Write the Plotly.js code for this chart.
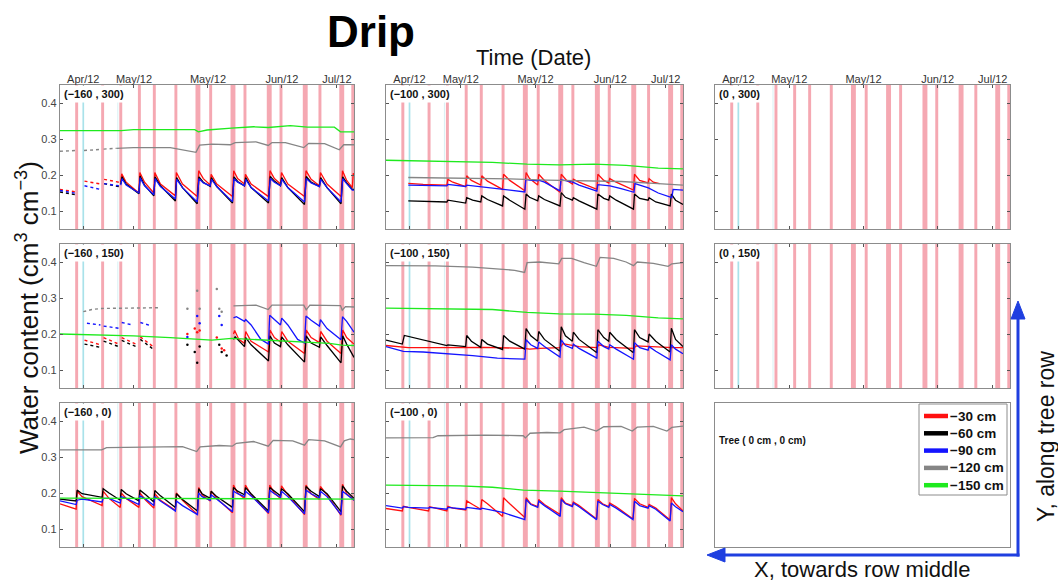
<!DOCTYPE html>
<html><head><meta charset="utf-8">
<script src="https://cdn.plot.ly/plotly-3.0.1.min.js"></script>
<style>html,body{margin:0;padding:0;background:#fff}#chart{width:1058px;height:583px}</style>
</head><body><div id="chart"></div>
<script>
// ---------------- DATA ----------------
// x values are days since 2012-04-01
const TICK_DAYS = [9.5, 30.2, 60.4, 90.6, 113];
const TICK_LABELS = ['Apr/12', 'May/12', 'May/12', 'Jun/12', 'Jul/12'];
const Y_TICKS = [0.1, 0.2, 0.3, 0.4];
const Y_LABELS = ['0.1', '0.2', '0.3', '0.4'];
const SERIES_NAMES = ['\u221230 cm', '\u221260 cm', '\u221290 cm', '\u2212120 cm', '\u2212150 cm'];
const PANEL_LABELS = ['(\u2212160 , 300)', '(\u2212100 , 300)', '(0 , 300)',
                      '(\u2212160 , 150)', '(\u2212100 , 150)', '(0 , 150)',
                      '(\u2212160 , 0)', '(\u2212100 , 0)', 'Tree ( 0 cm , 0 cm)'];
// irrigation events [start day, end day]
const IRRIGATION = [[6.2,7.4],[16.8,18.0],[24.2,25.4],[31.8,33.0],[37.9,39.1],[46.7,47.9],
  [55.3,57.3],[60.9,62.1],[69.6,71.6],[74.9,76.1],[84.4,86.4],[89.6,90.8],[99.1,101.1],
  [105.5,106.7],[114.0,116.0],[118.9,120.0]];
const RAIN = [[9.15,9.85]];
const RAIN_FAINT = [[23.4,23.8]];

// Panel (-160, 300)
const P1_RED_EARLY = [[0,0.160],[6.5,0.153],null,[10,0.183],[16.5,0.175],null,[18,0.188],[24,0.180]];
const P1_BLACK_EARLY = [[0,0.153],[6.5,0.145],null,[18,0.176],[24,0.168]];
const P1_BLUE_EARLY = [[0,0.157],[6.5,0.149],null,[10,0.170],[16.5,0.160],null,[18,0.176],[24,0.170]];
const P1_GRAY_EARLY = [[0,0.266],[6.5,0.268],null,[9.8,0.268],[16.5,0.271],null,[17.8,0.272],[23,0.274]];
const P1_RED = [[24.8,0.180],[25.2,0.203],[27,0.180],[32.2,0.150],[32.6,0.207],[34.5,0.180],[38.3,0.150],
  [38.7,0.207],[41,0.175],[47.1,0.142],[47.5,0.207],[50,0.175],[56,0.140],[56.6,0.212],[58.5,0.190],[61.3,0.172],
  [61.7,0.202],[64,0.175],[70.4,0.140],[70.9,0.212],[72.5,0.190],[75.3,0.175],[75.7,0.202],[78,0.175],[85.1,0.140],
  [85.7,0.212],[87.5,0.190],[90,0.175],[90.4,0.207],[93,0.175],[99.8,0.140],[100.4,0.212],[102.5,0.188],[105.9,0.170],
  [106.3,0.207],[109,0.175],[114.7,0.140],[115.3,0.212],[117,0.185],[119.3,0.165],[119.7,0.205],[120,0.200]];
const P1_BLACK = [[24.8,0.175],[25.3,0.195],[27,0.175],[32.2,0.148],[32.7,0.197],[34.5,0.172],[38.3,0.142],
  [38.8,0.195],[41,0.170],[47.1,0.128],[47.6,0.193],[50,0.165],[56,0.120],[56.7,0.195],[58.5,0.180],[61.3,0.168],
  [61.8,0.193],[64,0.168],[70.4,0.122],[71,0.195],[72.5,0.182],[75.3,0.170],[75.8,0.193],[78,0.165],[85.1,0.122],
  [85.8,0.196],[87.5,0.183],[90,0.170],[90.5,0.193],[93,0.165],[99.8,0.118],[100.5,0.196],[102.5,0.180],[105.9,0.168],
  [106.4,0.193],[109,0.165],[114.7,0.120],[115.4,0.195],[117,0.178],[119.3,0.160],[120,0.160]];
const P1_BLUE = [[24.8,0.172],[25.3,0.190],[27,0.172],[32.2,0.150],[32.7,0.192],[34.5,0.170],[38.3,0.145],
  [38.8,0.190],[41,0.168],[47.1,0.133],[47.6,0.188],[50,0.165],[56,0.125],[56.7,0.190],[58.5,0.178],[61.3,0.170],
  [61.8,0.188],[64,0.168],[70.4,0.126],[71,0.190],[72.5,0.180],[75.3,0.170],[75.8,0.188],[78,0.165],[85.1,0.128],
  [85.8,0.190],[87.5,0.180],[90,0.170],[90.5,0.188],[93,0.165],[99.8,0.125],[100.5,0.190],[102.5,0.178],[105.9,0.168],
  [106.4,0.188],[109,0.165],[114.7,0.125],[115.4,0.190],[117,0.176],[119.3,0.158],[120,0.158]];
const P1_GRAY = [[23,0.274],[30,0.276],[45,0.276],[55.5,0.263],[57,0.283],[62,0.286],[69.5,0.284],[71.5,0.290],
  [80,0.292],[85,0.282],[86.5,0.290],[92,0.290],[99.5,0.276],[101.5,0.288],[108,0.287],[114,0.270],[115.8,0.284],[120,0.284]];
const P1_GREEN = [[0,0.323],[25,0.323],[30,0.326],[55,0.326],[56.5,0.320],[60,0.325],[70,0.330],[79,0.334],
  [85,0.332],[94,0.337],[101,0.333],[112,0.333],[114.5,0.320],[120,0.320]];

// Panel (-100, 300)
const P2_RED = [[9,0.177],[15,0.174],[24.6,0.172],[25.0,0.188],[27,0.180],[32.2,0.168],[32.6,0.198],[34.5,0.185],
  [38.3,0.172],[38.7,0.198],[41,0.183],[47.1,0.160],[47.5,0.202],[50,0.185],[56.1,0.156],[56.6,0.207],[58,0.190],
  [61.3,0.172],[61.7,0.202],[64,0.185],[70.3,0.152],[70.8,0.202],[73,0.185],[75.3,0.175],[75.7,0.188],[78,0.180],
  [85.2,0.160],[85.6,0.202],[88,0.185],[90,0.178],[90.4,0.190],[93,0.180],[100,0.158],[100.4,0.202],[102.5,0.185],
  [105.9,0.178],[106.3,0.190],[108,0.180],[110.5,0.176]];
const P2_BLACK = [[9,0.128],[24.6,0.125],[25.0,0.130],[32.2,0.122],[32.6,0.137],[35,0.130],[38.3,0.125],
  [38.7,0.142],[41,0.132],[47.1,0.114],[47.5,0.142],[50,0.130],[56.1,0.105],[56.6,0.147],[58,0.138],[61.3,0.128],
  [61.7,0.142],[64,0.132],[70.3,0.114],[70.8,0.151],[72.5,0.138],[75.3,0.130],[75.7,0.137],[78,0.128],[85.2,0.105],
  [85.6,0.147],[88,0.135],[90,0.130],[90.4,0.142],[93,0.130],[100,0.105],[100.4,0.147],[102.5,0.135],[105.9,0.130],
  [106.3,0.137],[109,0.125],[114.8,0.114],[115.3,0.147],[117,0.130],[120,0.118]];
const P2_BLUE = [[9,0.172],[24.6,0.170],[25.0,0.174],[32.2,0.168],[32.6,0.172],[38.3,0.167],[47.1,0.160],[56.1,0.153],
  [56.5,0.188],[58,0.186],[61.3,0.184],[61.7,0.186],[64,0.180],[70.3,0.156],[70.7,0.187],[73,0.184],[75.5,0.180],
  [78,0.172],[85.2,0.155],[85.6,0.173],[88,0.172],[90.5,0.170],[95,0.162],[100.2,0.152],[100.6,0.176],[103,0.170],
  [106,0.164],[110,0.150],[115.5,0.137],[116,0.160],[120,0.158]];
const P2_GRAY = [[9,0.193],[30,0.192],[50,0.189],[65,0.186],[80,0.184],[95,0.182],[110,0.176],[120,0.172]];
const P2_GREEN = [[0,0.241],[20,0.239],[43,0.235],[57,0.230],[70,0.228],[84,0.230],[97,0.227],[110,0.219],[120,0.217]];

// Panel (-160, 150)
const P4_RED_EARLY = [[10,0.183],[16.5,0.170],null,[17.8,0.190],[24,0.172],null,[25.2,0.190],[31,0.172],null,[32.8,0.192],[38,0.165]];
const P4_BLACK_EARLY = [[10,0.172],[16.5,0.163],null,[17.8,0.180],[24,0.165],null,[25.2,0.182],[31,0.165],null,[32.8,0.185],[38,0.158]];
const P4_BLUE_EARLY = [[11,0.230],[16.5,0.225],null,[17.8,0.222],[24,0.216],null,[25.2,0.232],[29,0.226],null,[32.8,0.232],[37,0.223]];
const P4_GRAY_EARLY = [[9.5,0.262],[13,0.268],[17,0.271],[41,0.273]];
const P4_RED_DOTS = [[52,0.200],[55,0.215],[56,0.205],[57,0.210],[64,0.190],[66,0.160],[67,0.155]];
const P4_BLACK_DOTS = [[52,0.170],[55,0.150],[56,0.120],[57,0.165],[65,0.170],[66,0.150],[68,0.140]];
const P4_BLUE_DOTS = [[52,0.192],[56,0.250],[57,0.230],[65,0.250],[66,0.225]];
const P4_GRAY_DOTS = [[52,0.270],[56,0.320],[57,0.270],[64,0.325],[65,0.270],[66,0.262]];
const P4_RED = [[70.8,0.200],[71.3,0.210],[73,0.185],[75.3,0.174],[75.8,0.207],[78,0.180],[85.1,0.150],[85.7,0.211],
  [87.5,0.190],[90,0.178],[90.5,0.207],[93,0.180],[99.8,0.146],[100.5,0.211],[102.5,0.190],[105.9,0.176],[106.4,0.207],
  [109,0.180],[114.7,0.146],[115.4,0.211],[117,0.190],[120,0.172]];
const P4_BLACK = [[70.8,0.185],[71.5,0.192],[75.3,0.165],[75.8,0.190],[78,0.170],[85.1,0.125],[85.7,0.195],[87.5,0.175],
  [90,0.165],[90.5,0.192],[93,0.170],[99.8,0.122],[100.5,0.195],[102.5,0.175],[105.9,0.163],[106.4,0.192],[109,0.168],
  [114.7,0.120],[115.4,0.195],[117,0.172],[120,0.135]];
const P4_BLUE = [[70.8,0.245],[72,0.248],[75.3,0.235],[75.8,0.240],[78,0.225],[82,0.185],[85.1,0.172],[85.6,0.252],
  [87.5,0.240],[90,0.225],[90.5,0.244],[93,0.225],[97,0.185],[99.8,0.175],[100.4,0.250],[102.5,0.238],[105.9,0.222],
  [106.3,0.240],[109,0.215],[114.7,0.184],[115.3,0.248],[117,0.235],[120,0.205]];
const P4_GRAY = [[70.8,0.278],[80,0.280],[85,0.268],[86.5,0.280],[99.5,0.280],[100.5,0.267],[102,0.280],[114.5,0.279],
  [115.2,0.266],[116.5,0.276],[120,0.275]];
const P4_GREEN = [[0,0.200],[15,0.198],[30,0.195],[45,0.190],[56,0.186],[62,0.183],[70,0.188],[80,0.185],[90,0.182],
  [100,0.178],[110,0.174],[115,0.169],[120,0.168]];

// Panel (-100, 150)
const P5_RED = [[0,0.168],[9,0.162],[20,0.162],[40,0.163],[56,0.160],[58,0.158],[62,0.160],[70.3,0.162],[71.5,0.173],
  [78,0.165],[85.2,0.162],[86,0.170],[90,0.163],[100.2,0.160],[101,0.167],[110,0.163],[116,0.162],[120,0.162]];
const P5_BLACK = [[0,0.183],[6.6,0.172],[7.4,0.196],[12,0.188],[24.6,0.168],[25,0.170],[32.2,0.165],[32.6,0.196],
  [34.5,0.180],[38.3,0.163],[38.7,0.185],[41,0.172],[47.1,0.157],[47.5,0.196],[50,0.180],[56.1,0.158],[56.6,0.215],
  [58.5,0.195],[61.3,0.180],[61.7,0.207],[64,0.185],[70.3,0.152],[70.8,0.220],[72.5,0.195],[75.3,0.180],[75.7,0.205],
  [78,0.185],[85.2,0.148],[85.6,0.212],[88,0.190],[90,0.180],[90.4,0.205],[93,0.185],[100,0.148],[100.4,0.212],
  [102.5,0.190],[105.9,0.178],[106.3,0.200],[109,0.180],[114.8,0.150],[115.3,0.216],[117,0.185],[120,0.165]];
const P5_BLUE = [[0,0.165],[7,0.152],[15,0.150],[25,0.146],[35,0.140],[45,0.133],[56.1,0.130],[56.6,0.184],[58.5,0.170],
  [61.3,0.160],[61.7,0.178],[64,0.165],[70.3,0.136],[70.8,0.184],[72.5,0.168],[75.3,0.160],[75.7,0.172],[78,0.160],
  [85.2,0.133],[85.6,0.180],[88,0.165],[90,0.158],[90.4,0.170],[93,0.158],[100,0.130],[100.4,0.176],[102.5,0.162],
  [105.9,0.155],[106.3,0.165],[109,0.152],[114.8,0.128],[115.3,0.170],[117,0.158],[120,0.145]];
const P5_GRAY = [[0,0.390],[20,0.389],[35,0.386],[45,0.380],[52,0.377],[56,0.371],[57,0.398],[62,0.400],[69.8,0.395],
  [71,0.410],[75,0.410],[80,0.398],[85,0.388],[86.5,0.413],[92,0.410],[97,0.400],[100,0.390],[101.5,0.400],[108,0.396],
  [114,0.388],[115.5,0.395],[120,0.398]];
const P5_GREEN = [[0,0.272],[20,0.271],[43,0.268],[57,0.260],[70,0.256],[84,0.255],[97,0.252],[110,0.245],[120,0.242]];

// Panel (-160, 0)
const P7_RED = [[0,0.170],[6.6,0.155],[7.0,0.205],[9,0.190],[17.2,0.165],[17.6,0.205],[20,0.185],[24.6,0.160],
  [25,0.200],[27,0.185],[32.2,0.160],[32.6,0.200],[35,0.180],[38.3,0.158],[38.7,0.198],[41,0.180],[47.1,0.152],
  [47.5,0.200],[50,0.180],[56.1,0.140],[56.6,0.215],[58,0.195],[61.3,0.178],[61.7,0.205],[64,0.185],[70.4,0.145],
  [70.8,0.222],[72.5,0.200],[75.3,0.185],[75.7,0.222],[78,0.195],[85.1,0.143],[85.6,0.222],[87.5,0.200],[90,0.185],
  [90.4,0.220],[93,0.195],[99.8,0.140],[100.4,0.222],[102.5,0.198],[105.9,0.182],[106.3,0.218],[109,0.195],
  [114.7,0.138],[115.3,0.224],[117,0.198],[120,0.180]];
const P7_BLACK = [[0,0.183],[6.6,0.178],[7.0,0.208],[9,0.198],[17.2,0.188],[17.6,0.212],[20,0.200],[24.6,0.180],
  [25,0.210],[27,0.198],[32.2,0.178],[32.6,0.208],[35,0.195],[38.3,0.175],[38.7,0.207],[41,0.192],[47.1,0.160],
  [47.5,0.198],[50,0.182],[56.1,0.150],[56.6,0.212],[58,0.198],[61.3,0.185],[61.7,0.205],[64,0.190],[70.4,0.160],
  [70.8,0.215],[72.5,0.205],[75.3,0.195],[75.7,0.215],[78,0.198],[85.1,0.150],[85.6,0.215],[87.5,0.205],[90,0.192],
  [90.4,0.212],[93,0.198],[99.8,0.148],[100.4,0.218],[102.5,0.205],[105.9,0.190],[106.3,0.212],[109,0.198],
  [114.7,0.148],[115.3,0.220],[117,0.205],[120,0.185]];
const P7_BLUE = [[0,0.178],[6.6,0.168],[7.0,0.180],[9,0.183],[17.2,0.175],[17.6,0.185],[20,0.185],[24.6,0.172],
  [25,0.190],[27,0.185],[32.2,0.168],[32.6,0.192],[35,0.183],[38.3,0.165],[38.7,0.190],[41,0.178],[47.1,0.150],
  [47.5,0.178],[50,0.165],[56.1,0.140],[56.6,0.200],[58,0.190],[61.3,0.180],[61.7,0.195],[64,0.183],[70.4,0.148],
  [70.8,0.205],[72.5,0.198],[75.3,0.190],[75.7,0.205],[78,0.192],[85.1,0.145],[85.6,0.208],[87.5,0.198],[90,0.188],
  [90.4,0.205],[93,0.190],[99.8,0.142],[100.4,0.208],[102.5,0.198],[105.9,0.186],[106.3,0.205],[109,0.190],
  [114.7,0.140],[115.3,0.205],[117,0.195],[120,0.180]];
const P7_GRAY = [[0,0.320],[17,0.320],[19,0.326],[35,0.328],[50,0.329],[55.8,0.315],[57.2,0.328],[65,0.332],[70.3,0.330],
  [72,0.338],[79,0.343],[85,0.330],[87,0.346],[95,0.345],[99.8,0.333],[101.5,0.348],[108,0.345],[114.5,0.328],
  [116,0.345],[118.5,0.350],[120,0.348]];
const P7_GREEN = [[0,0.186],[30,0.185],[60,0.184],[90,0.184],[120,0.183]];

// Panel (-100, 0)
const P8_RED = [[0,0.157],[6.6,0.150],[7.0,0.163],[9,0.160],[17.2,0.150],[17.6,0.162],[20,0.158],[24.6,0.150],
  [25,0.163],[27,0.158],[32.2,0.153],[32.6,0.178],[35,0.168],[38.3,0.155],[38.7,0.182],[41,0.170],[47.1,0.135],
  [47.5,0.187],[50,0.170],[56.1,0.132],[56.6,0.187],[58.5,0.170],[61.3,0.162],[61.7,0.182],[64,0.168],[70.4,0.140],
  [70.8,0.187],[72.5,0.172],[75.3,0.165],[75.7,0.175],[78,0.165],[85.1,0.128],[85.6,0.182],[87.5,0.170],[90,0.162],
  [90.4,0.172],[93,0.162],[99.8,0.128],[100.4,0.185],[102.5,0.170],[105.9,0.160],[106.3,0.168],[109,0.158],
  [114.8,0.125],[115.3,0.187],[117,0.170],[120,0.150]];
const P8_BLUE = [[0,0.165],[6.6,0.158],[7.0,0.162],[9,0.160],[17.2,0.158],[17.6,0.160],[24.6,0.155],[25,0.160],
  [32.2,0.155],[32.6,0.160],[38.3,0.155],[38.7,0.158],[47.1,0.146],[52,0.135],[56.1,0.126],[56.6,0.182],[58.5,0.168],
  [61.3,0.160],[61.7,0.177],[64,0.165],[70.4,0.135],[70.8,0.182],[72.5,0.170],[75.3,0.162],[75.7,0.172],[78,0.162],
  [85.1,0.126],[85.6,0.177],[87.5,0.168],[90,0.160],[90.4,0.168],[93,0.158],[99.8,0.126],[100.4,0.177],[102.5,0.165],
  [105.9,0.158],[106.3,0.165],[109,0.155],[114.8,0.122],[115.3,0.172],[117,0.162],[120,0.148]];
const P8_GRAY = [[0,0.353],[19,0.354],[21,0.359],[40,0.361],[55.5,0.359],[56.3,0.353],[58.2,0.366],[65,0.368],
  [70.3,0.367],[72,0.376],[80,0.383],[85,0.372],[88,0.384],[95,0.385],[99.5,0.372],[101.5,0.383],[108,0.385],
  [113.5,0.372],[115.5,0.382],[120,0.386]];
const P8_GREEN = [[0,0.222],[30,0.220],[43,0.216],[55.5,0.208],[70,0.205],[84,0.201],[97,0.198],[110,0.195],[120,0.192]];

// ---------------- BUILD ----------------
const BASE = Date.UTC(2012, 3, 1);
const toDate = d => new Date(BASE + d * 86400000).toISOString().slice(0, 19).replace('T', ' ');
const W = 1058, H = 583;
const PX = v => v / W, PY = v => 1 - v / H;
const FONT = 'Arial, "Liberation Sans", Helvetica, sans-serif';
const C = {red: '#ff1010', black: '#000000', blue: '#1414ff', gray: '#858585', green: '#1eea1e'};
const COLS = [[60, 354], [386, 683], [715, 1010]];
const ROWS = [[85, 229], [244, 388], [403, 547]];
const sfx = i => (i === 1 ? '' : String(i));

const traces = [];
function add(i, pts, color, kind) {
  const x = [], y = [];
  pts.forEach(p => { if (p === null) { x.push(null); y.push(null); } else { x.push(toDate(p[0])); y.push(p[1]); } });
  const t = {type: 'scatter', x, y, xaxis: 'x' + sfx(i), yaxis: 'y' + sfx(i), showlegend: false, hoverinfo: 'skip'};
  if (kind === 'dots') { t.mode = 'markers'; t.marker = {color, size: 2.5}; }
  else { t.mode = 'lines'; t.line = {color, width: kind === 'dot' ? 1.4 : 1.3, dash: kind === 'dot' ? 'dot' : 'solid'}; }
  traces.push(t);
}
const PANELS = {
  1: {red: P1_RED, black: P1_BLACK, blue: P1_BLUE, gray: P1_GRAY, green: P1_GREEN,
      early: {red: P1_RED_EARLY, black: P1_BLACK_EARLY, blue: P1_BLUE_EARLY, gray: P1_GRAY_EARLY}},
  2: {red: P2_RED, black: P2_BLACK, blue: P2_BLUE, gray: P2_GRAY, green: P2_GREEN},
  4: {red: P4_RED, black: P4_BLACK, blue: P4_BLUE, gray: P4_GRAY, green: P4_GREEN,
      early: {red: P4_RED_EARLY, black: P4_BLACK_EARLY, blue: P4_BLUE_EARLY, gray: P4_GRAY_EARLY},
      dots: {red: P4_RED_DOTS, black: P4_BLACK_DOTS, blue: P4_BLUE_DOTS, gray: P4_GRAY_DOTS}},
  5: {red: P5_RED, black: P5_BLACK, blue: P5_BLUE, gray: P5_GRAY, green: P5_GREEN},
  7: {red: P7_RED, black: P7_BLACK, blue: P7_BLUE, gray: P7_GRAY, green: P7_GREEN},
  8: {red: P8_RED, blue: P8_BLUE, gray: P8_GRAY, green: P8_GREEN}
};
const ORDER = ['red', 'black', 'blue', 'gray', 'green'];
Object.keys(PANELS).forEach(k => {
  const i = +k, P = PANELS[k];
  ORDER.forEach(s => {
    if (P.early && P.early[s]) add(i, P.early[s], C[s], 'dot');
    if (P.dots && P.dots[s]) add(i, P.dots[s], C[s], 'dots');
    if (P[s]) add(i, P[s], C[s], 'line');
  });
});
// empty traces so the data-free panels are still drawn
[3, 6, 9].forEach(i => traces.push({type: 'scatter', mode: 'lines', x: [], y: [], xaxis: 'x' + i, yaxis: 'y' + i,
  showlegend: false, hoverinfo: 'skip'}));

const layout = {
  width: W, height: H, margin: {l: 0, r: 0, t: 0, b: 0},
  paper_bgcolor: '#fff', plot_bgcolor: '#fff',
  font: {family: FONT, color: '#222'},
  title: {text: '<b>Drip</b>', x: PX(371), y: PY(32), xanchor: 'center', yanchor: 'middle',
          font: {size: 44, color: '#000', family: FONT}},
  showlegend: false,
  shapes: [], annotations: []
};
for (let r = 0; r < 3; r++) for (let c = 0; c < 3; c++) {
  const i = r * 3 + c + 1, s = sfx(i);
  const tk = i === 9 ? '' : 'inside';
  layout['xaxis' + s] = {type: 'date', domain: [PX(COLS[c][0]), PX(COLS[c][1])], anchor: 'y' + s,
    range: [toDate(0), toDate(120)], tickmode: 'array', tickvals: TICK_DAYS.map(toDate), ticktext: TICK_LABELS,
    side: r === 0 ? 'top' : 'bottom', showticklabels: r === 0, ticks: tk, ticklen: 3, tickcolor: '#555',
    ticklabelstandoff: -4,
    showline: true, mirror: i === 9 ? true : 'ticks', linecolor: '#8c8c8c', linewidth: 1.2,
    showgrid: false, zeroline: false, tickfont: {size: 11, color: '#333', family: FONT}, fixedrange: true};
  layout['yaxis' + s] = {domain: [PY(ROWS[r][1]), PY(ROWS[r][0])], anchor: 'x' + s, range: [0.05, 0.45],
    tickmode: 'array', tickvals: Y_TICKS, ticktext: Y_LABELS, showticklabels: c === 0 && i !== 9,
    ticks: tk, ticklen: 3, tickcolor: '#555', showline: true, mirror: i === 9 ? true : 'ticks',
    linecolor: '#8c8c8c', linewidth: 1.2, showgrid: false, zeroline: false,
    tickfont: {size: 11, color: '#444', family: FONT}, fixedrange: true};
  if (i !== 9) {
    const band = (ev, col) => layout.shapes.push({type: 'rect', xref: 'x' + s, yref: 'y' + s + ' domain',
      x0: toDate(ev[0]), x1: toDate(ev[1]), y0: 0, y1: 1, fillcolor: col, line: {width: 0}, layer: 'below'});
    IRRIGATION.forEach(ev => band(ev, '#f5a8b2'));
    RAIN.forEach(ev => band(ev, '#a9e2ea'));
    RAIN_FAINT.forEach(ev => band(ev, '#d8f1f4'));
    layout.annotations.push({xref: 'x' + s + ' domain', yref: 'y' + s + ' domain', x: 0.004, y: 0.997,
      xanchor: 'left', yanchor: 'top', text: '<b>' + PANEL_LABELS[i - 1] + '</b>', showarrow: false,
      bgcolor: '#fff', borderpad: 2, font: {size: 11, color: '#111', family: FONT}});
  } else {
    layout.annotations.push({xref: 'paper', yref: 'paper', x: PX(717), y: PY(440), xanchor: 'left',
      yanchor: 'middle', text: '<b>' + PANEL_LABELS[8] + '</b>', showarrow: false,
      font: {size: 10, color: '#111', family: FONT}});
  }
}
// legend (drawn inside the tree panel)
const LEG = {left: 919, right: 1007, top: 404, bottom: 495, first: 416, step: 17.3};
layout.shapes.push({type: 'rect', xref: 'paper', yref: 'paper', x0: PX(LEG.left), x1: PX(LEG.right),
  y0: PY(LEG.bottom), y1: PY(LEG.top), fillcolor: '#fff', line: {color: '#8c8c8c', width: 1}});
ORDER.forEach((s, j) => {
  const yc = LEG.first + LEG.step * j;
  layout.shapes.push({type: 'line', xref: 'paper', yref: 'paper', x0: PX(924), x1: PX(948), y0: PY(yc), y1: PY(yc),
    line: {color: C[s], width: 4.5}});
  layout.annotations.push({xref: 'paper', yref: 'paper', x: PX(949), y: PY(yc), xanchor: 'left', yanchor: 'middle',
    text: '<b>' + SERIES_NAMES[j] + '</b>', showarrow: false, borderpad: 0,
    font: {size: 13.5, color: '#111', family: FONT}});
});
// axis titles / direction labels
layout.annotations.push(
  {xref: 'paper', yref: 'paper', x: PX(533), y: PY(58), text: 'Time (Date)', showarrow: false,
   xanchor: 'center', yanchor: 'middle', font: {size: 22, color: '#111', family: FONT}},
  {xref: 'paper', yref: 'paper', x: PX(27), y: PY(308), text: 'Water content (cm<sup>3</sup> cm<sup>\u22123</sup>)',
   textangle: -90, showarrow: false, xanchor: 'center', yanchor: 'middle', font: {size: 26, color: '#111', family: FONT}},
  {xref: 'paper', yref: 'paper', x: PX(1046), y: PY(437), text: 'Y, along tree row', textangle: -90, showarrow: false,
   xanchor: 'center', yanchor: 'middle', font: {size: 23, color: '#111', family: FONT}},
  {xref: 'paper', yref: 'paper', x: PX(862), y: PY(569), text: 'X, towards row middle', showarrow: false,
   xanchor: 'center', yanchor: 'middle', borderpad: 0, font: {size: 22, color: '#111', family: FONT}}
);
// blue direction arrows
const AC = '#1f3fe0';
layout.shapes.push(
  {type: 'line', xref: 'paper', yref: 'paper', x0: PX(1018), x1: PX(1018), y0: PY(556.5), y1: PY(314), line: {color: AC, width: 3}},
  {type: 'line', xref: 'paper', yref: 'paper', x0: PX(1019.5), x1: PX(722), y0: PY(555), y1: PY(555), line: {color: AC, width: 3}},
  {type: 'path', xref: 'paper', yref: 'paper', fillcolor: AC, line: {color: AC, width: 1},
   path: `M ${PX(1018)} ${PY(301)} L ${PX(1011)} ${PY(319)} L ${PX(1025)} ${PY(319)} Z`},
  {type: 'path', xref: 'paper', yref: 'paper', fillcolor: AC, line: {color: AC, width: 1},
   path: `M ${PX(707)} ${PY(555)} L ${PX(725)} ${PY(548)} L ${PX(725)} ${PY(562)} Z`}
);
Plotly.newPlot('chart', traces, layout, {displayModeBar: false, staticPlot: true});
</script></body></html>
